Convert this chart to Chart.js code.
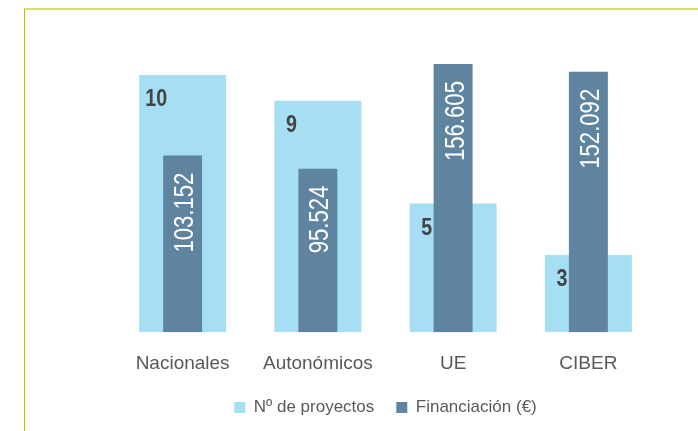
<!DOCTYPE html>
<html>
<head>
<meta charset="utf-8">
<script src="https://cdn.jsdelivr.net/npm/chart.js@4.4.1/dist/chart.umd.min.js"></script>
<style>
    html, body { margin: 0; padding: 0; background: #ffffff; }
    #wrap { position: relative; width: 698px; height: 431px; }
    #frame {
        position: absolute; left: 24px; top: 8px; right: 0; bottom: 0;
        border-top: 2px solid #dadf78;
        border-left: 1px solid #bcc400;
    }
    #myChart { position: absolute; left: 0; top: 0; }
</style>
</head>
<body>
<div id="wrap">
    <div id="frame"></div>
    <canvas id="myChart" width="698" height="431"></canvas>
</div>
<script>
/* Chart data */
const categories = ['Nacionales', 'Autonómicos', 'UE', 'CIBER'];
const numProyectos = [10, 9, 5, 3];
const financiacion = [103152, 95524, 156605, 152092];
const seriesNames = ['Nº de proyectos', 'Financiación (€)'];

const fontFamily = '"Liberation Sans", Arial, sans-serif';
// the original uses a narrow font, squeeze the bar labels a bit
const narrow = 0.82;

// Spanish style thousands separator: 103152 -> 103.152
function formatEs(value) {
    return String(value).replace(/\B(?=(\d{3})+(?!\d))/g, '.');
}

// Draw the value labels inside the bars
const barLabels = {
    id: 'barLabels',
    afterDatasetsDraw(chart) {
        const ctx = chart.ctx;
        const lightMeta = chart.getDatasetMeta(0);
        const darkMeta = chart.getDatasetMeta(1);

        lightMeta.data.forEach((bar, i) => {
            ctx.save();
            ctx.fillStyle = '#444444';
            ctx.font = `bold 24px ${fontFamily}`;
            ctx.textAlign = 'center';
            ctx.textBaseline = 'alphabetic';
            ctx.translate(bar.x - bar.width / 2 + 17, bar.y + 31);
            ctx.scale(narrow, 1);
            ctx.fillText(String(numProyectos[i]), 0, 0);
            ctx.restore();
        });

        darkMeta.data.forEach((bar, i) => {
            ctx.save();
            ctx.fillStyle = '#ffffff';
            ctx.font = `27px ${fontFamily}`;
            ctx.textAlign = 'right';
            ctx.textBaseline = 'alphabetic';
            ctx.translate(bar.x + 10.5, bar.y + 17);
            ctx.rotate(-Math.PI / 2);
            ctx.scale(narrow, 1);
            ctx.fillText(formatEs(financiacion[i]), 0, 0);
            ctx.restore();
        });
    }
};

function drawChart() {
    const ctx = document.getElementById('myChart').getContext('2d');
    const chart = new Chart(ctx, {
        type: 'bar',
        data: {
            labels: categories,
            datasets: [
                {
                    label: seriesNames[0],
                    data: numProyectos,
                    backgroundColor: '#a6dff3',
                    yAxisID: 'y',
                    order: 1,
                    grouped: false,
                    barPercentage: 0.643,
                    categoryPercentage: 1
                },
                {
                    label: seriesNames[1],
                    data: financiacion,
                    backgroundColor: '#5f84a0',
                    yAxisID: 'y1',
                    order: 0,
                    grouped: false,
                    barPercentage: 0.288,
                    categoryPercentage: 1
                }
            ]
        },
        options: {
            responsive: false,
            animation: false,
            layout: {
                padding: { left: 115, right: 42, top: 40, bottom: 5 }
            },
            scales: {
                x: {
                    grid: { display: false },
                    border: { display: false },
                    ticks: {
                        color: '#595959',
                        font: { family: fontFamily, size: 19 },
                        padding: 12
                    },
                    // less room between the category labels and the legend
                    afterFit: (scale) => {
                        scale.height -= 10;
                    }
                },
                y: {
                    display: false,
                    min: 0,
                    max: 11.36
                },
                y1: {
                    display: false,
                    min: 0,
                    max: 170650
                }
            },
            plugins: {
                legend: {
                    position: 'bottom',
                    labels: {
                        color: '#595959',
                        font: { family: fontFamily, size: 17 },
                        boxWidth: 11,
                        boxHeight: 11,
                        padding: 22,
                        sort: (a, b) => a.datasetIndex - b.datasetIndex
                    }
                },
                tooltip: { enabled: false }
            }
        },
        plugins: [barLabels]
    });
}

setTimeout(() => {
    drawChart();
}, 0);
</script>
</body>
</html>
